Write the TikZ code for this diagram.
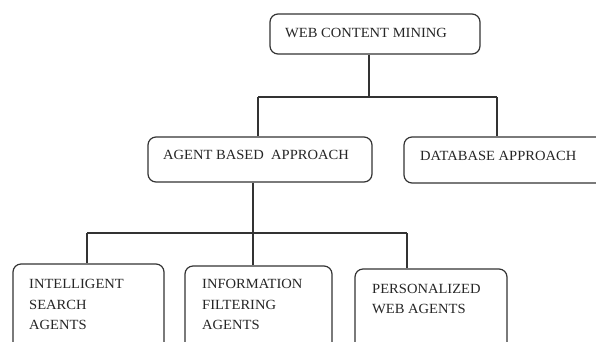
\documentclass[tikz,border=0pt]{standalone}
\usepackage{fontspec}
\setmainfont{Liberation Serif}[FakeStretch=1.04]
\begin{document}
\begin{tikzpicture}[x=1pt,y=-1pt,
  box/.style={draw=black!80, line width=1.2pt, rounded corners=8pt, rectangle, inner sep=0pt},
  conn/.style={draw=black!80, line width=1.2pt},
  lbl/.style={inner sep=0pt, text=black!85, font=\fontsize{14}{20.5}\selectfont, align=left, anchor=north west}]
\clip (0,0) rectangle (596,341);
\fill[white] (0,0) rectangle (596,341);
% boxes
\node[box, minimum width=210pt, minimum height=40pt] (top) at (375,34) {};
\node[box, minimum width=224pt, minimum height=45pt] (agent) at (260,159.5) {};
\node[box, minimum width=216pt, minimum height=46pt] (db) at (512,160) {};
\node[box, minimum width=151pt, minimum height=86pt] (intel) at (88.5,307) {};
\node[box, minimum width=147pt, minimum height=84pt] (info) at (258.5,308) {};
\node[box, minimum width=152pt, minimum height=81pt] (pers) at (431,309.5) {};
% labels
\node[lbl] (ttop) at (285,28.5) {WEB CONTENT MINING};
\node[lbl] (tagent) at (163,150.5) {AGENT BASED\ \ APPROACH};
\node[lbl] (tdb) at (420,151) {DATABASE APPROACH};
\node[lbl] (tintel) at (29,279.3) {INTELLIGENT\\SEARCH\\AGENTS};
\node[lbl] (tinfo) at (202,279.5) {INFORMATION\\FILTERING\\AGENTS};
\node[lbl, font=\fontsize{14}{19.5}\selectfont] (tpers) at (372,284.5) {PERSONALIZED\\WEB AGENTS};
% junction coordinates
\coordinate (j0) at (369,97);
\coordinate (jL) at (258,97);
\coordinate (jR) at (497,97);
\coordinate (k0) at (253,233);
\coordinate (kL) at (87,233);
\coordinate (kM) at (253,233);
\coordinate (kR) at (407,233);
% connectors
\draw[conn] (top.south -| j0) -- (j0);
\draw[conn] (jL) -- (jR);
\draw[conn] (jL) -- (jL |- agent.north);
\draw[conn] (jR) -- (jR |- db.north);
\draw[conn] (agent.south -| k0) -- (k0);
\draw[conn] (kL) -- (kR);
\draw[conn] (kL) -- (kL |- intel.north);
\draw[conn] (kM) -- (kM |- info.north);
\draw[conn] (kR) -- (kR |- pers.north);
\end{tikzpicture}
\end{document}
